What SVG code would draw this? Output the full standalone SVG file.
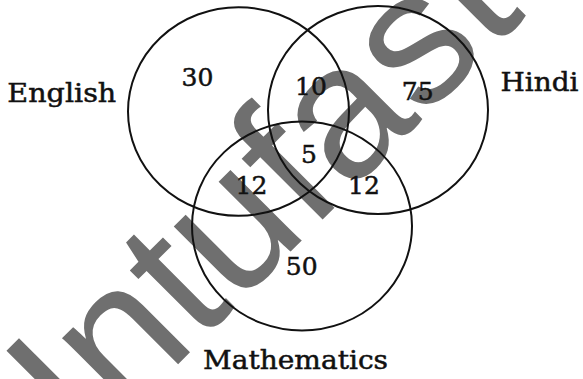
<svg xmlns="http://www.w3.org/2000/svg" width="583" height="379" viewBox="0 0 583 379">
<style>
.c{fill:none;stroke:#111;stroke-width:2}
.n{font-family:"DejaVu Serif","Liberation Serif",serif;font-size:25px;fill:#111;stroke:#111;stroke-width:0.5;text-anchor:middle}
.l{font-family:"DejaVu Serif","Liberation Serif",serif;font-size:26px;fill:#111;stroke:#111;stroke-width:0.5}
.w{font-family:"Liberation Sans",Arial,sans-serif;font-size:190px;fill:#6f6f6f}
</style>
<rect width="583" height="379" fill="#fff"/>
<text class="w" transform="translate(86.6,455.5) rotate(-45)">Intufast</text>
<g id="connectors"></g>
<g id="english"><ellipse class="c" cx="238.5" cy="111.5" rx="110.5" ry="104.3"/><text class="l" x="7.3" y="101.5" textLength="109" lengthAdjust="spacingAndGlyphs">English</text></g>
<g id="hindi"><ellipse class="c" cx="378" cy="110" rx="110" ry="104"/><text class="l" x="500.5" y="90.7" textLength="78" lengthAdjust="spacingAndGlyphs">Hindi</text></g>
<g id="mathematics"><ellipse class="c" cx="302" cy="226" rx="110" ry="104.5"/><text class="l" x="203" y="368.5" textLength="185" lengthAdjust="spacingAndGlyphs">Mathematics</text></g>
<g id="e-only"><text class="n" x="197.5" y="86">30</text></g>
<g id="e-h"><text class="n" x="311" y="94.5">10</text></g>
<g id="h-only"><text class="n" x="417.7" y="100">75</text></g>
<g id="e-h-m"><text class="n" x="309" y="162.5">5</text></g>
<g id="e-m"><text class="n" x="251.5" y="193.5">12</text></g>
<g id="h-m"><text class="n" x="364" y="193.5">12</text></g>
<g id="m-only"><text class="n" x="301.7" y="275">50</text></g>
</svg>
